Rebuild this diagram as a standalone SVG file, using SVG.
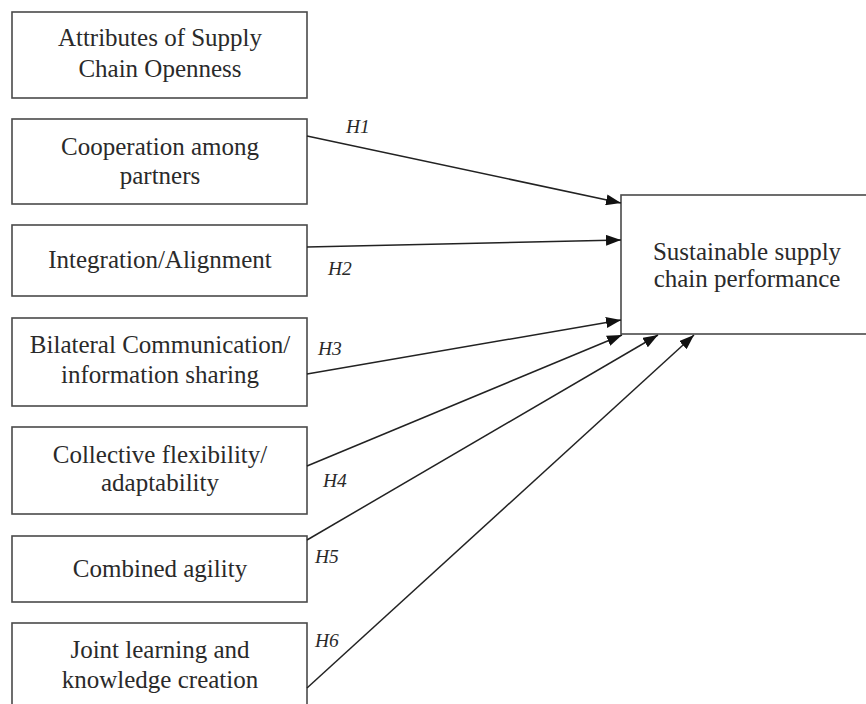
<svg xmlns="http://www.w3.org/2000/svg" width="866" height="704" viewBox="0 0 866 704">
<style>
.box{fill:#fff;stroke:#4a4a4a;stroke-width:1.6}
.t{font-family:"Liberation Serif","Times New Roman",serif;font-size:25px;fill:#2a2a2a;text-anchor:middle}
.h{font-family:"Liberation Serif","Times New Roman",serif;font-size:19.5px;font-style:italic;fill:#2a2a2a}
.c{stroke:#222;stroke-width:1.5;fill:none;marker-end:url(#ah)}
</style>
<defs>
<marker id="ah" viewBox="0 0 15 11" refX="15" refY="5.5" markerWidth="15" markerHeight="11" markerUnits="userSpaceOnUse" orient="auto">
<path d="M0,0 L15,5.5 L0,11 z" fill="#111"/>
</marker>
</defs>
<rect width="866" height="704" fill="#fff"/>
<g id="n0"><rect class="box" x="12" y="12" width="295" height="86"/><text class="t" x="160" y="46">Attributes of Supply</text><text class="t" x="160" y="77">Chain Openness</text></g>
<g id="n1"><rect class="box" x="12" y="119" width="295" height="85"/><text class="t" x="160" y="155">Cooperation among</text><text class="t" x="160" y="184">partners</text></g>
<g id="n2"><rect class="box" x="12" y="225" width="295" height="71"/><text class="t" x="160" y="268">Integration/Alignment</text></g>
<g id="n3"><rect class="box" x="12" y="318" width="295" height="88"/><text class="t" x="160" y="353">Bilateral Communication/</text><text class="t" x="160" y="383">information sharing</text></g>
<g id="n4"><rect class="box" x="12" y="427" width="295" height="87"/><text class="t" x="160" y="463">Collective flexibility/</text><text class="t" x="160" y="491">adaptability</text></g>
<g id="n5"><rect class="box" x="12" y="536" width="295" height="66"/><text class="t" x="160" y="577">Combined agility</text></g>
<g id="n6"><rect class="box" x="12" y="623" width="295" height="90"/><text class="t" x="160" y="658">Joint learning and</text><text class="t" x="160" y="688">knowledge creation</text></g>
<g id="target"><rect class="box" x="621" y="195" width="250" height="139"/><text class="t" x="747" y="260">Sustainable supply</text><text class="t" x="747" y="287">chain performance</text></g>
<g id="connectors">
<line class="c" x1="307" y1="136" x2="621" y2="203"/>
<line class="c" x1="307" y1="247" x2="621" y2="240"/>
<line class="c" x1="307" y1="374" x2="621" y2="320"/>
<line class="c" x1="307" y1="466" x2="622" y2="335"/>
<line class="c" x1="307" y1="540" x2="658" y2="335"/>
<line class="c" x1="307" y1="688" x2="694" y2="335"/>
<text class="h" x="346" y="133">H1</text>
<text class="h" x="328" y="275">H2</text>
<text class="h" x="318" y="355">H3</text>
<text class="h" x="323" y="487">H4</text>
<text class="h" x="315" y="563">H5</text>
<text class="h" x="315" y="647">H6</text>
</g>
</svg>
